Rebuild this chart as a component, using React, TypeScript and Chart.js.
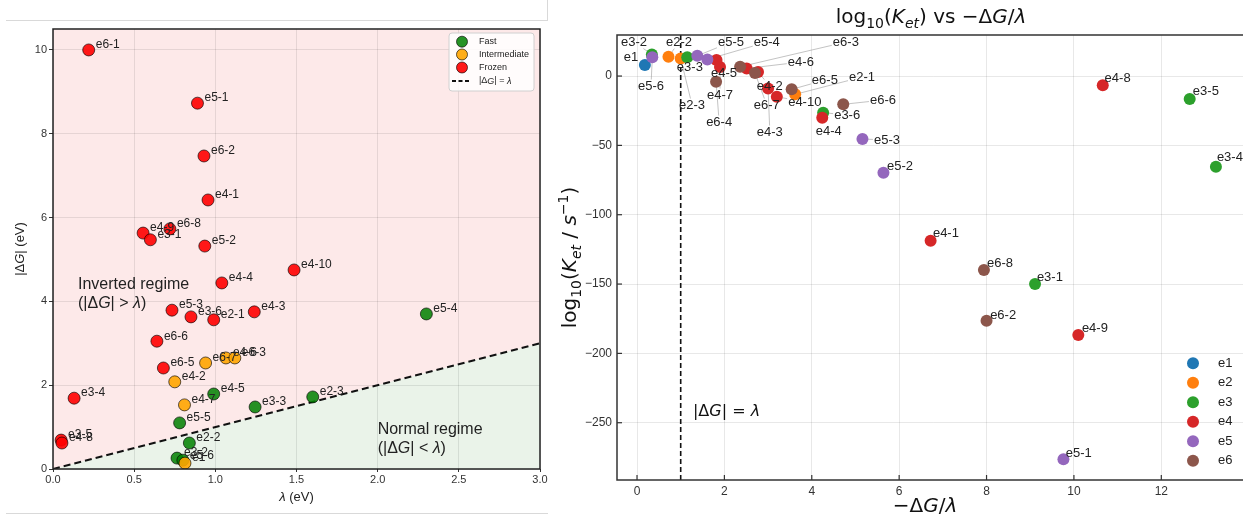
import React, { useEffect, useRef } from "react";
import { Chart, registerables } from "chart.js";
Chart.register(...registerables);

const SANS = "'Liberation Sans', Arial, sans-serif";
const MATH = "'DejaVu Sans', sans-serif";

// ---------- Left panel data ----------
const leftNames = ["e6-1","e5-1","e6-2","e4-1","e4-9","e3-1","e6-8","e5-2","e4-10","e4-4","e5-3","e3-6","e2-1","e4-3","e6-6","e6-5","e6-7","e4-6","e6-3","e4-2","e3-4","e4-5","e4-7","e3-3","e2-3","e5-4","e5-5","e2-2","e3-5","e4-8","e3-2","e5-6","e1"];
const leftLambda = [0.22,0.89,0.93,0.955,0.555,0.60,0.72,0.935,1.485,1.04,0.733,0.85,0.99,1.24,0.64,0.68,0.94,1.065,1.12,0.75,0.13,0.99,0.81,1.245,1.6,2.3,0.78,0.84,0.05,0.055,0.764,0.80,0.813];
const leftDeltaG = [10.0,8.73,7.47,6.42,5.63,5.47,5.73,5.32,4.75,4.44,3.79,3.63,3.56,3.75,3.05,2.41,2.53,2.65,2.65,2.08,1.69,1.79,1.53,1.48,1.72,3.7,1.1,0.62,0.69,0.62,0.26,0.21,0.14];
const leftRegime = ["Frozen","Frozen","Frozen","Frozen","Frozen","Frozen","Frozen","Frozen","Frozen","Frozen","Frozen","Frozen","Frozen","Frozen","Frozen","Frozen","Intermediate","Intermediate","Intermediate","Intermediate","Frozen","Fast","Intermediate","Fast","Fast","Fast","Fast","Fast","Frozen","Frozen","Fast","Fast","Intermediate"];
const regimeNames = ["Fast", "Intermediate", "Frozen"];
const regimeColors = ["rgba(0,128,0,0.85)", "rgba(255,165,0,0.9)", "rgba(255,0,0,0.9)"];
const leftXTicks = [0, 0.5, 1, 1.5, 2, 2.5, 3];
const leftYTicks = [0, 2, 4, 6, 8, 10];
const leftXRange = [0, 3];
const leftYRange = [0, 10.5];
const invertedAnchor = [0.154, 4.39];
const normalAnchor = [2.0, 0.93];

// ---------- Right panel data ----------
const rightNames = ["e1","e2-1","e2-2","e2-3","e3-1","e3-2","e3-3","e3-4","e3-5","e3-6","e4-1","e4-2","e4-3","e4-4","e4-5","e4-6","e4-7","e4-8","e4-9","e4-10","e5-1","e5-2","e5-3","e5-4","e5-5","e5-6","e6-2","e6-3","e6-4","e6-5","e6-6","e6-7","e6-8"];
const rightRatio = [0.18,3.62,0.72,1.0,9.11,0.34,1.15,13.25,12.65,4.26,6.72,2.77,3.0,4.24,1.82,2.51,1.9,10.66,10.1,3.2,9.76,5.64,5.16,1.61,1.38,0.35,8.0,2.36,1.81,3.54,4.72,2.7,7.94];
const rightLogK = [7.9,-13.2,13.9,12.7,-150,15.6,13.5,-65.4,-16.6,-26.4,-118.7,2.9,-8.9,-30,11.5,5.5,6.5,-6.7,-186.7,-14.9,-276.4,-69.7,-45.4,12,14.6,13.5,-176.4,6.7,-4.1,-9.6,-20.4,2.2,-139.9];
const rightLabelX = [-0.14,5.15,0.96,1.26,9.45,-0.07,1.21,13.57,13.02,4.81,7.07,3.04,3.04,4.39,1.99,3.75,1.9,11.0,10.48,3.84,10.11,6.02,5.72,2.97,2.15,0.32,8.38,4.78,1.88,4.3,5.63,2.97,8.31];
const rightLabelY = [13.7,-0.7,24.5,-20.9,-144.9,24.5,6.5,-58.4,-10.8,-28.1,-113.2,-7.2,-40.4,-39.7,2.2,10.1,-13.7,-1.4,-181.7,-18.7,-271.8,-64.9,-46.1,24.5,24.5,-7.2,-172.3,24.5,-33.2,-2.9,-17.3,-20.9,-134.8];
const groupNames = ["e1", "e2", "e3", "e4", "e5", "e6"];
const groupColors = ["#1f77b4", "#ff7f0e", "#2ca02c", "#d62728", "#9467bd", "#8c564b"];
const rightXTicks = [0, 2, 4, 6, 8, 10, 12];
const rightYTicks = [-250, -200, -150, -100, -50, 0];
const rightXRange = [-0.458, 14.03];
const rightYRange = [-291.3, 29.6];
const thresholdRatio = 1;
const thresholdTextAnchor = [1.28, -242.5];

const RIGHT_LEFT = 550;

type Seg = { t: string; it?: boolean; sub?: boolean; sup?: boolean };

function drawRich(ctx: CanvasRenderingContext2D, segs: Seg[], x: number, y: number, size: number, family: string, align: string = "left", color: string = "#111") {
  ctx.save();
  ctx.textAlign = "left";
  ctx.textBaseline = "middle";
  const parts = segs.map((s) => {
    const sz = s.sub || s.sup ? size * 0.7 : size;
    ctx.font = `${s.it ? "italic " : ""}${sz}px ${family}`;
    return { s, sz, w: ctx.measureText(s.t).width };
  });
  const total = parts.reduce((a, p) => a + p.w, 0);
  let cx = align === "center" ? x - total / 2 : align === "right" ? x - total : x;
  ctx.fillStyle = color;
  for (const p of parts) {
    ctx.font = `${p.s.it ? "italic " : ""}${p.sz}px ${family}`;
    const dy = p.s.sub ? size * 0.3 : p.s.sup ? -size * 0.35 : 0;
    ctx.fillText(p.s.t, cx, y + dy);
    cx += p.w;
  }
  ctx.restore();
}

function LeftChart() {
  const ref = useRef<HTMLCanvasElement>(null);
  useEffect(() => {
    const canvas = ref.current!;
    const pts = leftNames.map((n, i) => ({ x: leftLambda[i], y: leftDeltaG[i], name: n, reg: leftRegime[i] }));
    const datasets: any[] = regimeNames.map((r, ri) => ({
      type: "scatter",
      label: r,
      data: pts.filter((p) => p.reg === r),
      backgroundColor: regimeColors[ri],
      borderColor: "rgba(0,0,0,0.7)",
      borderWidth: 0.9,
      pointRadius: 6,
      order: regimeNames.length - ri,
    }));
    datasets.push({
      type: "line",
      label: "|ΔG| = λ",
      data: [
        { x: leftXRange[0], y: leftXRange[0] },
        { x: leftXRange[1], y: leftXRange[1] },
      ],
      borderColor: "#111",
      borderWidth: 2,
      borderDash: [7, 4],
      pointRadius: 0,
      showLine: true,
      fill: false,
      order: 100,
    });

    const deco = {
      id: "leftDeco",
      beforeDraw(chart: any) {
        const { ctx, chartArea: a, scales } = chart;
        const x = scales.x, y = scales.y;
        ctx.save();
        ctx.beginPath();
        ctx.rect(a.left, a.top, a.right - a.left, a.bottom - a.top);
        ctx.clip();
        ctx.fillStyle = "rgb(253,233,233)";
        ctx.fillRect(a.left, a.top, a.right - a.left, a.bottom - a.top);
        ctx.fillStyle = "rgb(234,243,233)";
        ctx.beginPath();
        ctx.moveTo(x.getPixelForValue(leftXRange[0]), y.getPixelForValue(leftXRange[0]));
        ctx.lineTo(x.getPixelForValue(leftXRange[1]), y.getPixelForValue(leftXRange[1]));
        ctx.lineTo(x.getPixelForValue(leftXRange[1]), y.getPixelForValue(leftYRange[0]));
        ctx.lineTo(x.getPixelForValue(leftXRange[0]), y.getPixelForValue(leftYRange[0]));
        ctx.closePath();
        ctx.fill();
        ctx.restore();
      },
      afterDatasetsDraw(chart: any) {
        const { ctx, chartArea: a, scales } = chart;
        const x = scales.x, y = scales.y;
        ctx.save();
        ctx.font = `12px ${SANS}`;
        ctx.fillStyle = "#222";
        ctx.textAlign = "left";
        ctx.textBaseline = "middle";
        leftNames.forEach((n, i) => {
          ctx.fillText(n, x.getPixelForValue(leftLambda[i]) + 7, y.getPixelForValue(leftDeltaG[i]) - 5);
        });
        ctx.restore();
        const ix = x.getPixelForValue(invertedAnchor[0]);
        const iy = y.getPixelForValue(invertedAnchor[1]);
        drawRich(ctx, [{ t: "Inverted regime" }], ix, iy, 16, SANS, "left", "#222");
        drawRich(ctx, [{ t: "(|Δ" }, { t: "G", it: true }, { t: "| > " }, { t: "λ", it: true }, { t: ")" }], ix, iy + 19, 16, SANS, "left", "#222");
        const nx = x.getPixelForValue(normalAnchor[0]);
        const ny = y.getPixelForValue(normalAnchor[1]);
        drawRich(ctx, [{ t: "Normal regime" }], nx, ny, 16, SANS, "left", "#222");
        drawRich(ctx, [{ t: "(|Δ" }, { t: "G", it: true }, { t: "| < " }, { t: "λ", it: true }, { t: ")" }], nx, ny + 19, 16, SANS, "left", "#222");
        ctx.save();
        ctx.strokeStyle = "#222";
        ctx.lineWidth = 1.5;
        ctx.strokeRect(a.left, a.top, a.right - a.left, a.bottom - a.top);
        ctx.restore();
        // legend
        ctx.save();
        const lx = 449, ly = 33, lw = 85, lh = 58;
        ctx.fillStyle = "rgba(255,255,255,0.85)";
        ctx.strokeStyle = "#d0d0d0";
        ctx.lineWidth = 1;
        ctx.beginPath();
        (ctx as any).roundRect(lx, ly, lw, lh, 3);
        ctx.fill();
        ctx.stroke();
        const rows = [41.7, 54.5, 67.5, 81];
        regimeNames.forEach((r, ri) => {
          ctx.beginPath();
          ctx.arc(462, rows[ri], 5.5, 0, Math.PI * 2);
          ctx.fillStyle = regimeColors[ri];
          ctx.fill();
          ctx.strokeStyle = "rgba(0,0,0,0.7)";
          ctx.lineWidth = 0.9;
          ctx.stroke();
          drawRich(ctx, [{ t: r }], 479, rows[ri], 9, SANS, "left", "#222");
        });
        ctx.beginPath();
        ctx.setLineDash([4, 2.5]);
        ctx.strokeStyle = "#111";
        ctx.lineWidth = 2;
        ctx.moveTo(452, rows[3]);
        ctx.lineTo(471, rows[3]);
        ctx.stroke();
        ctx.setLineDash([]);
        drawRich(ctx, [{ t: "|Δ" }, { t: "G", it: true }, { t: "| = " }, { t: "λ", it: true }], 479, rows[3], 9, SANS, "left", "#222");
        ctx.restore();
      },
      afterDraw(chart: any) {
        const { ctx, chartArea: a } = chart;
        drawRich(ctx, [{ t: "λ", it: true }, { t: " (eV)" }], (a.left + a.right) / 2, 497, 13, SANS, "center", "#222");
        ctx.save();
        ctx.translate(20, (a.top + a.bottom) / 2);
        ctx.rotate(-Math.PI / 2);
        drawRich(ctx, [{ t: "|Δ" }, { t: "G", it: true }, { t: "| (eV)" }], 0, 0, 13, SANS, "center", "#222");
        ctx.restore();
      },
    };

    const chart = new Chart(canvas, {
      type: "scatter",
      data: { datasets },
      options: {
        animation: false,
        responsive: false,
        devicePixelRatio: 1,
        layout: { padding: { left: 0, top: 29, right: 8, bottom: 0 } },
        plugins: { legend: { display: false }, tooltip: { enabled: false }, title: { display: false } },
        scales: {
          x: {
            type: "linear",
            min: leftXRange[0],
            max: leftXRange[1],
            afterBuildTicks: (s: any) => { s.ticks = leftXTicks.map((v) => ({ value: v })); },
            afterFit: (s: any) => { s.height = 48; s.paddingLeft = 0; s.paddingRight = 0; },
            ticks: { autoSkip: false, maxRotation: 0, padding: 1, color: "#333", font: { size: 11, family: SANS }, callback: (v: any) => Number(v).toFixed(1) },
            grid: { color: "rgba(0,0,0,0.09)", tickLength: 3, tickColor: "#333", drawTicks: true },
            border: { display: false },
          },
          y: {
            type: "linear",
            min: leftYRange[0],
            max: leftYRange[1],
            afterBuildTicks: (s: any) => { s.ticks = leftYTicks.map((v) => ({ value: v })); },
            afterFit: (s: any) => { s.width = 53; s.paddingTop = 0; s.paddingBottom = 0; },
            ticks: { autoSkip: false, padding: 2, color: "#333", font: { size: 11, family: SANS }, callback: (v: any) => String(v) },
            grid: { color: "rgba(0,0,0,0.09)", tickLength: 4, tickColor: "#333", drawTicks: true },
            border: { display: false },
          },
        },
      } as any,
      plugins: [deco],
    });
    return () => chart.destroy();
  }, []);
  return <canvas ref={ref} width={548} height={517} style={{ position: "absolute", left: 0, top: 0, width: 548, height: 517 }} />;
}

function RightChart() {
  const ref = useRef<HTMLCanvasElement>(null);
  useEffect(() => {
    const canvas = ref.current!;
    const groupOf = (n: string) => n.split("-")[0];
    const datasets: any[] = groupNames.map((g, gi) => ({
      label: g,
      data: rightNames.map((n, i) => ({ x: rightRatio[i], y: rightLogK[i], name: n })).filter((p) => groupOf(p.name) === g),
      backgroundColor: groupColors[gi],
      borderWidth: 0,
      pointRadius: 6,
      order: groupNames.length - gi,
    }));

    const deco = {
      id: "rightDeco",
      beforeDatasetsDraw(chart: any) {
        const { ctx, chartArea: a, scales } = chart;
        const x = scales.x, y = scales.y;
        ctx.save();
        ctx.font = `13px ${SANS}`;
        ctx.strokeStyle = "rgba(140,140,140,0.65)";
        ctx.lineWidth = 0.8;
        rightNames.forEach((n, i) => {
          const px = x.getPixelForValue(rightRatio[i]);
          const py = y.getPixelForValue(rightLogK[i]);
          const lx = x.getPixelForValue(rightLabelX[i]);
          const ly = y.getPixelForValue(rightLabelY[i]);
          const hw = ctx.measureText(n).width / 2 + 1;
          const hh = 6.5;
          const dx = px - lx, dy = py - ly;
          const t = Math.min(dx !== 0 ? hw / Math.abs(dx) : Infinity, dy !== 0 ? hh / Math.abs(dy) : Infinity);
          if (t >= 1) return;
          const sx = lx + dx * t, sy = ly + dy * t;
          if (Math.hypot(px - sx, py - sy) < 8) return;
          ctx.beginPath();
          ctx.moveTo(sx, sy);
          ctx.lineTo(px, py);
          ctx.stroke();
        });
        const tx = x.getPixelForValue(thresholdRatio);
        ctx.beginPath();
        ctx.setLineDash([5, 3]);
        ctx.strokeStyle = "#111";
        ctx.lineWidth = 1.6;
        ctx.moveTo(tx, a.top);
        ctx.lineTo(tx, a.bottom);
        ctx.stroke();
        ctx.setLineDash([]);
        ctx.strokeStyle = "#333";
        ctx.lineWidth = 1.2;
        rightXTicks.forEach((v) => {
          const p = x.getPixelForValue(v);
          ctx.beginPath();
          ctx.moveTo(p, a.bottom);
          ctx.lineTo(p, a.bottom - 5);
          ctx.stroke();
        });
        rightYTicks.forEach((v) => {
          const p = y.getPixelForValue(v);
          ctx.beginPath();
          ctx.moveTo(a.left, p);
          ctx.lineTo(a.left + 5, p);
          ctx.stroke();
        });
        ctx.restore();
      },
      afterDatasetsDraw(chart: any) {
        const { ctx, chartArea: a, scales } = chart;
        const x = scales.x, y = scales.y;
        ctx.save();
        ctx.font = `13px ${SANS}`;
        ctx.fillStyle = "#222";
        ctx.textAlign = "center";
        ctx.textBaseline = "middle";
        rightNames.forEach((n, i) => {
          ctx.fillText(n, x.getPixelForValue(rightLabelX[i]), y.getPixelForValue(rightLabelY[i]));
        });
        ctx.restore();
        drawRich(ctx, [{ t: "|Δ" }, { t: "G", it: true }, { t: "| = " }, { t: "λ", it: true }],
          x.getPixelForValue(thresholdTextAnchor[0]), y.getPixelForValue(thresholdTextAnchor[1]), 16, MATH, "left", "#111");
        ctx.save();
        ctx.strokeStyle = "#333";
        ctx.lineWidth = 1.5;
        ctx.strokeRect(a.left, a.top, a.right - a.left, a.bottom - a.top);
        ctx.restore();
        const legX = a.left + 576;
        const legY0 = 363.3;
        groupNames.forEach((g, gi) => {
          const yy = legY0 + gi * 19.5;
          ctx.beginPath();
          ctx.arc(legX, yy, 6, 0, Math.PI * 2);
          ctx.fillStyle = groupColors[gi];
          ctx.fill();
          drawRich(ctx, [{ t: g }], legX + 25, yy, 13, SANS, "left", "#222");
        });
      },
      afterDraw(chart: any) {
        const { ctx, chartArea: a } = chart;
        const cx = 931 - RIGHT_LEFT;
        drawRich(ctx, [{ t: "log" }, { t: "10", sub: true }, { t: "(" }, { t: "K", it: true }, { t: "et", it: true, sub: true }, { t: ") vs −Δ" }, { t: "G", it: true }, { t: "/" }, { t: "λ", it: true }], cx, 18, 20, MATH, "center", "#111");
        drawRich(ctx, [{ t: "−Δ" }, { t: "G", it: true }, { t: "/" }, { t: "λ", it: true }], cx - 6, 507, 20, MATH, "center", "#111");
        ctx.save();
        ctx.translate(571 - RIGHT_LEFT, (a.top + a.bottom) / 2);
        ctx.rotate(-Math.PI / 2);
        drawRich(ctx, [{ t: "log" }, { t: "10", sub: true }, { t: "(" }, { t: "K", it: true }, { t: "et", it: true, sub: true }, { t: " / " }, { t: "s", it: true }, { t: "−1", sup: true }, { t: ")" }], 0, 0, 20, MATH, "center", "#111");
        ctx.restore();
      },
    };

    const minus = (v: number) => (v < 0 ? "−" + Math.abs(v) : String(v));
    const chart = new Chart(canvas, {
      type: "scatter",
      data: { datasets },
      options: {
        animation: false,
        responsive: false,
        devicePixelRatio: 1,
        layout: { padding: { left: 617 - 42 - RIGHT_LEFT, top: 35, right: 10, bottom: 0 } },
        plugins: { legend: { display: false }, tooltip: { enabled: false }, title: { display: false } },
        scales: {
          x: {
            type: "linear",
            min: rightXRange[0],
            max: rightXRange[1],
            afterBuildTicks: (s: any) => { s.ticks = rightXTicks.map((v) => ({ value: v })); },
            afterFit: (s: any) => { s.height = 37; s.paddingLeft = 0; s.paddingRight = 0; },
            ticks: { autoSkip: false, maxRotation: 0, padding: 4, color: "#333", font: { size: 12, family: SANS }, callback: (v: any) => minus(Number(v)) },
            grid: { color: "rgba(0,0,0,0.09)", drawTicks: false },
            border: { display: false },
          },
          y: {
            type: "linear",
            min: rightYRange[0],
            max: rightYRange[1],
            afterBuildTicks: (s: any) => { s.ticks = rightYTicks.map((v) => ({ value: v })); },
            afterFit: (s: any) => { s.width = 42; s.paddingTop = 0; s.paddingBottom = 0; },
            ticks: { autoSkip: false, padding: 5, color: "#333", font: { size: 12, family: SANS }, callback: (v: any) => minus(Number(v)) },
            grid: { color: "rgba(0,0,0,0.09)", drawTicks: false },
            border: { display: false },
          },
        },
      } as any,
      plugins: [deco],
    });
    return () => chart.destroy();
  }, []);
  return <canvas ref={ref} width={1260 - RIGHT_LEFT} height={517} style={{ position: "absolute", left: RIGHT_LEFT, top: 0, width: 1260 - RIGHT_LEFT, height: 517 }} />;
}

export default function App() {
  return (
    <div style={{ position: "fixed", left: 0, top: 0, width: 1243, height: 517, overflow: "hidden", background: "#fff" }}>
      <div style={{ position: "absolute", left: 6, top: 20, width: 542, height: 1, background: "#d9d9d9" }} />
      <div style={{ position: "absolute", left: 547, top: 0, width: 1, height: 20, background: "#d9d9d9" }} />
      <div style={{ position: "absolute", left: 6, top: 513, width: 542, height: 1, background: "#d9d9d9" }} />
      <LeftChart />
      <RightChart />
    </div>
  );
}
